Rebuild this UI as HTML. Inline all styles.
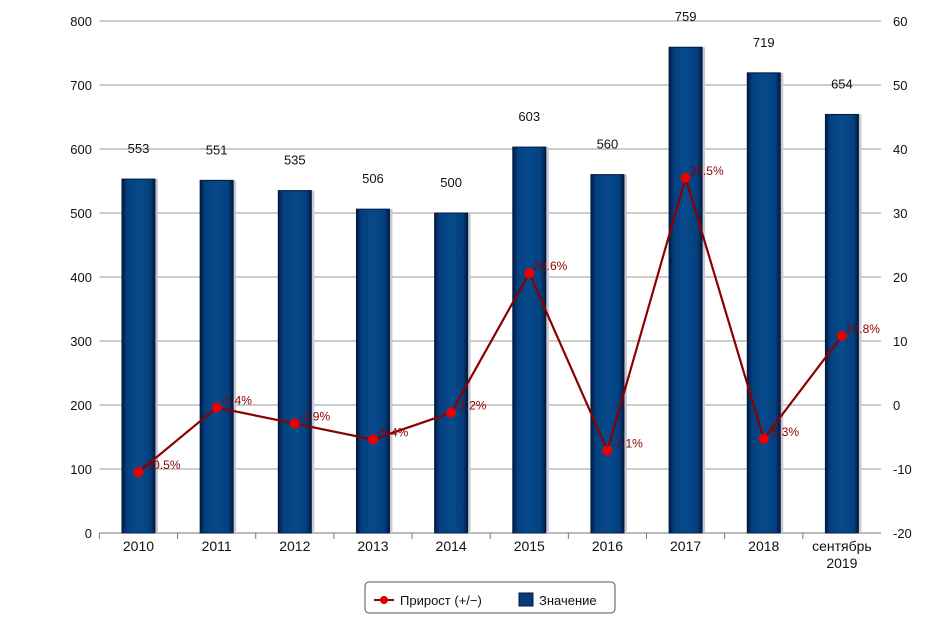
<!DOCTYPE html>
<html><head><meta charset="utf-8"><style>
body{margin:0;background:#fff;}
svg{display:block;font-family:"Liberation Sans","DejaVu Sans",sans-serif;}
</style></head><body>
<svg id="chart" width="941" height="618" viewBox="0 0 941 618">
<defs>
<linearGradient id="bg" x1="0" x2="1" y1="0" y2="0">
<stop offset="0" stop-color="#021a44"/><stop offset="0.15" stop-color="#04407e"/><stop offset="0.5" stop-color="#064a8c"/><stop offset="0.85" stop-color="#04407e"/><stop offset="1" stop-color="#021a44"/>
</linearGradient>
</defs>
<g id="grid"></g><g id="bars"></g><g id="line"></g><g id="axes"></g>
<g>
<rect x="365" y="582" width="250" height="31" rx="4" fill="#fff" stroke="#555" stroke-width="1"/>
<g>
<line x1="374" y1="600" x2="394" y2="600" stroke="#8b0000" stroke-width="2"/>
<circle cx="384" cy="600" r="4" fill="#d00"/>
<text x="400" y="605" font-size="13" fill="#111">Прирост (+/−)</text></g>
<g>
<rect x="519" y="593" width="14" height="13" fill="#063a78" stroke="#021a40"/>
<text x="539" y="605" font-size="13" fill="#111">Значение</text></g>
</g>
</svg>
<script>
const categories=["2010","2011","2012","2013","2014","2015","2016","2017","2018","сентябрь|2019"];
const values=[553,551,535,506,500,603,560,759,719,654];
const growth=[-10.5,-0.4,-2.9,-5.4,-1.2,20.6,-7.1,35.5,-5.3,10.8];
const leftTicks=[0,100,200,300,400,500,600,700,800];
const rightTicks=[-20,-10,0,10,20,30,40,50,60];
const NS="http://www.w3.org/2000/svg";
const X0=99.4,X1=881,Y0=533,Y1=21;
const bw=(X1-X0)/categories.length;
const xc=i=>X0+bw*(i+0.5);
const yL=v=>Y0-(v-0)/800*(Y0-Y1);
const yR=v=>Y0-(v+20)/80*(Y0-Y1);
function mk(tag,attrs,parent,txt){const e=document.createElementNS(NS,tag);for(const k in attrs)e.setAttribute(k,attrs[k]);if(txt!==undefined)e.textContent=txt;document.getElementById(parent).appendChild(e);return e;}
leftTicks.forEach(t=>{
  const g=mk('line',{x1:X0,x2:X1,y1:yL(t),y2:yL(t),stroke:t===0?'#777':'#999','stroke-width':1},'grid');
  
  
  const l=mk('text',{x:92,y:yL(t)+5,'text-anchor':'end','font-size':13,fill:'#111'},'axes',t);
  
  
});
rightTicks.forEach(t=>{
  const l=mk('text',{x:893,y:yR(t)+5,'font-size':13,fill:'#111'},'axes',t);
  
  
});
categories.forEach((c,i)=>{
  const tk=mk('line',{x1:X0+bw*i,x2:X0+bw*i,y1:Y0,y2:Y0+6,stroke:'#777'},'axes');
  
  
  const parts=c.split('|');
  parts.forEach((p,j)=>{
    const l=mk('text',{x:xc(i),y:551+j*17,'text-anchor':'middle','font-size':14,fill:'#111'},'axes',p);
    
    
  });
});
values.forEach((v,i)=>{
  const x=xc(i)-16.5,y=yL(v);
  const s=mk('rect',{x:x+3,y:y,width:33,height:Y0-y,fill:'#c8c8d0'},'bars');
  
  
  const b=mk('rect',{x:x,y:y,width:33,height:Y0-y,fill:'url(#bg)',stroke:'#021a40','stroke-width':1},'bars');
  
  
  const t=mk('text',{x:xc(i),y:y-26,'text-anchor':'middle','font-size':13,fill:'#111'},'bars',v);
  
  
});
const pts=growth.map((g,i)=>xc(i)+','+yR(g)).join(' ');
const pl=mk('polyline',{points:pts,fill:'none',stroke:'#8b0000','stroke-width':2.2},'line');


growth.forEach((g,i)=>{
  const c=mk('circle',{cx:xc(i),cy:yR(g),r:5,fill:'#e00'},'line');
  
  
  const t=mk('text',{x:xc(i)+4,y:yR(g)-3,'font-size':12,fill:'#8b0000'},'line',g.toFixed(1)+'%');
  
  
});
</script>
</body></html>
